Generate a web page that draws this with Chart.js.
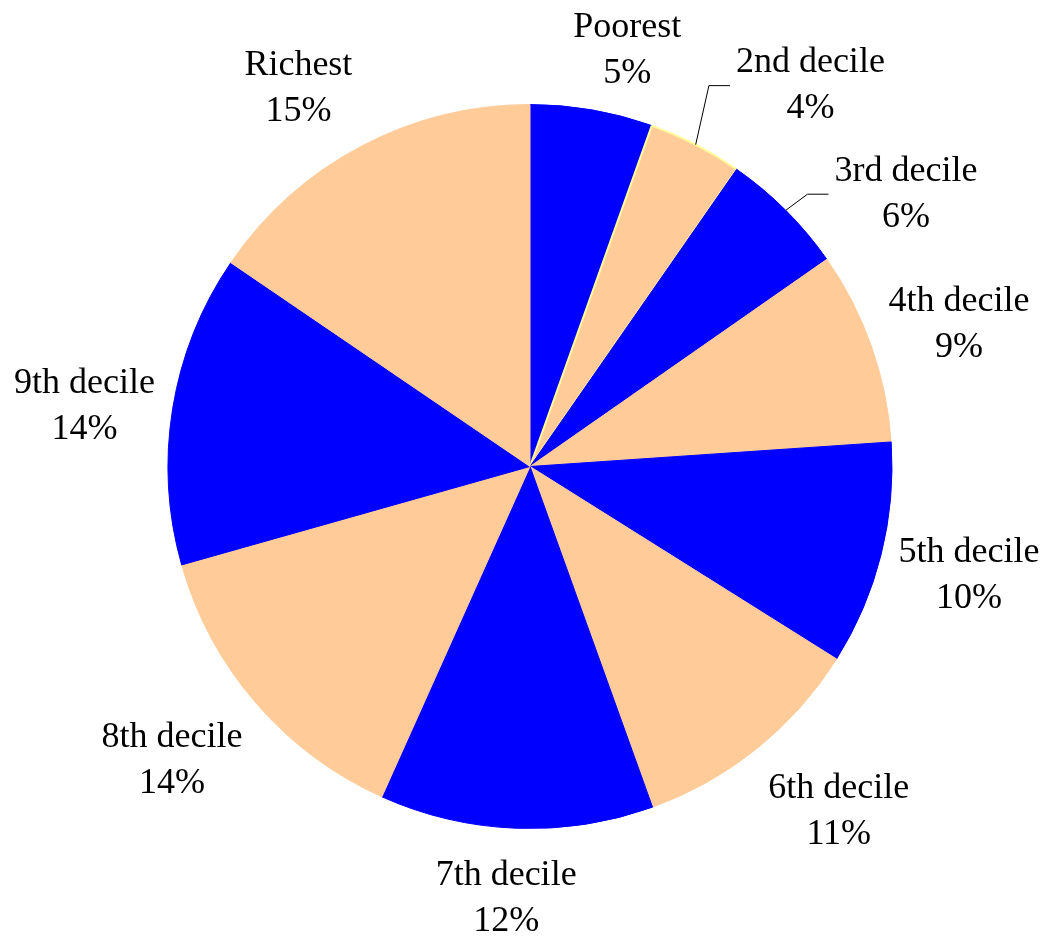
<!DOCTYPE html>
<html>
<head>
<meta charset="utf-8">
<script src="https://cdn.jsdelivr.net/npm/chart.js@4/dist/chart.umd.min.js"></script>
<style>
  html, body { margin: 0; padding: 0; background: #ffffff; }
  canvas { display: block; }
</style>
</head>
<body>
<canvas id="pieChart" width="1050" height="937"></canvas>
<script>
// Deciles de ingreso, del más pobre al más rico
const categories = ['Poorest', '2nd decile', '3rd decile', '4th decile', '5th decile',
    '6th decile', '7th decile', '8th decile', '9th decile', 'Richest'];
const shares = [5.45, 4.2, 5.62, 8.6, 9.98, 10.56, 12.18, 13.88, 13.87, 15.45];

const BLUE = '#0000FF';
const PEACH = '#FFCC99';
const LABEL_FONT = '36px "Liberation Serif", "Times New Roman", serif';

// etiquetas fuera del pastel, con línea guía para las que se movieron
const outsideLabels = {
    id: 'outsideLabels',
    afterDatasetsDraw(chart, args, opts) {
        const ctx = chart.ctx;
        const meta = chart.getDatasetMeta(0);
        const data = chart.data.datasets[0].data;
        const total = data.reduce((a, b) => a + b, 0);
        const clamp = v => Math.max(-1, Math.min(1, v));

        ctx.save();
        ctx.font = LABEL_FONT;
        ctx.fillStyle = '#000000';
        ctx.textAlign = 'center';
        ctx.textBaseline = 'middle';
        ctx.strokeStyle = '#000000';
        ctx.lineWidth = 1;

        meta.data.forEach((arc, i) => {
            const { x, y, startAngle, endAngle, outerRadius } = arc.getProps(['x', 'y', 'startAngle', 'endAngle', 'outerRadius'], true);
            const mid = (startAngle + endAngle) / 2;
            const ux = Math.cos(mid), uy = Math.sin(mid);
            const line1 = chart.data.labels[i];
            const line2 = Math.round(data[i] / total * 100) + '%';
            const hw = Math.max(ctx.measureText(line1).width, ctx.measureText(line2).width) / 2;
            const hh = uy > 0 ? opts.halfHeightDown : opts.halfHeightUp;

            const ax = x + (outerRadius + opts.gap) * ux;
            const ay = y + (outerRadius + opts.gap) * uy;
            let cx = ax + hw * clamp(3.5 * ux);
            let cy = ay + hh * clamp(1.2 * uy) + 2 + 16 * Math.max(0, -ux - 0.5);

            const shift = opts.shift[i];
            if (shift) {
                cx += shift[0];
                cy += shift[1];
                const left = cx - hw;
                ctx.beginPath();
                ctx.moveTo(x + outerRadius * ux, y + outerRadius * uy);
                ctx.lineTo(left - 27, cy);
                ctx.lineTo(left - 6, cy);
                ctx.stroke();
            }

            ctx.fillText(line1, cx, cy - opts.lineGap / 2);
            ctx.fillText(line2, cx, cy + opts.lineGap / 2);
        });
        ctx.restore();
    }
};

const pieCtx = document.getElementById('pieChart').getContext('2d');
new Chart(pieCtx, {
    type: 'pie',
    data: {
        labels: categories,
        datasets: [{
            data: shares,
            backgroundColor: shares.map((s, i) => i % 2 ? PEACH : BLUE),
            borderColor: shares.map((s, i) => i === 1 ? '#FFFF99' : (i % 2 ? PEACH : BLUE)),
            borderWidth: shares.map((s, i) => i === 1 ? 2 : 1)
        }]
    },
    options: {
        responsive: false,
        animation: false,
        radius: 362,
        layout: { padding: { left: 168, right: 158, top: 104, bottom: 108 } },
        plugins: {
            legend: { display: false },
            tooltip: { enabled: false },
            outsideLabels: {
                gap: 18,
                halfHeightUp: 44,
                halfHeightDown: 50,
                lineGap: 46,
                shift: { 1: [32, -1], 2: [36, 32] }
            }
        }
    },
    plugins: [outsideLabels]
});
</script>
</body>
</html>
